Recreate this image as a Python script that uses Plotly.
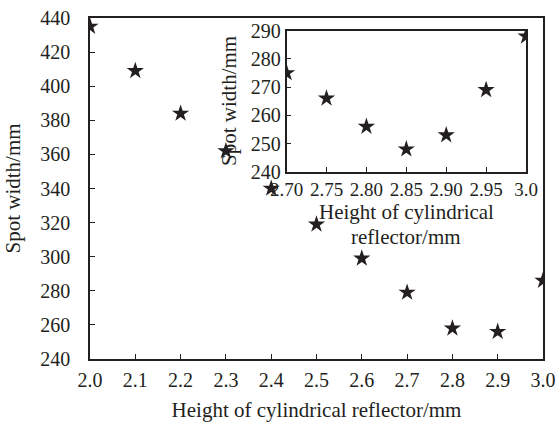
import plotly.graph_objects as go

# Main data
main_x = [2.0, 2.1, 2.2, 2.3, 2.4, 2.5, 2.6, 2.7, 2.8, 2.9, 3.0]
main_y = [435, 409, 384, 362, 340, 319, 299, 279, 258, 256, 286]
main_xticks = [2.0, 2.1, 2.2, 2.3, 2.4, 2.5, 2.6, 2.7, 2.8, 2.9, 3.0]
main_xlabels = ["2.0", "2.1", "2.2", "2.3", "2.4", "2.5", "2.6", "2.7", "2.8", "2.9", "3.0"]
main_yticks = [240, 260, 280, 300, 320, 340, 360, 380, 400, 420, 440]

# Inset data
inset_x = [2.70, 2.75, 2.80, 2.85, 2.90, 2.95, 3.0]
inset_y = [275, 266, 256, 248, 253, 269, 288]
inset_xticks = [2.70, 2.75, 2.80, 2.85, 2.90, 2.95, 3.0]
inset_xlabels = ["2.70", "2.75", "2.80", "2.85", "2.90", "2.95", "3.0"]
inset_yticks = [240, 250, 260, 270, 280, 290]

FONT = "Liberation Serif"
INK = "#231f20"

fig = go.Figure()
fig.add_trace(go.Scatter(x=main_x, y=main_y, mode="markers",
                         marker=dict(symbol="star", size=13, color=INK),
                         xaxis="x", yaxis="y", showlegend=False))
fig.add_trace(go.Scatter(x=inset_x, y=inset_y, mode="markers",
                         marker=dict(symbol="star", size=13, color=INK),
                         xaxis="x2", yaxis="y2", showlegend=False))

axcommon = dict(showline=True, linecolor=INK, linewidth=1.5, mirror=True,
                ticks="inside", ticklen=5, tickcolor=INK, tickwidth=1,
                showgrid=False, zeroline=False, automargin=False,
                tickfont=dict(family=FONT, size=20, color=INK))

title_font = dict(family=FONT, size=21, color=INK)

fig.update_layout(
    width=557, height=423,
    margin=dict(l=90, r=14, t=18, b=64),
    paper_bgcolor="white", plot_bgcolor="rgba(0,0,0,0)",
    font=dict(family=FONT, size=20, color=INK),
    xaxis=dict(axcommon, domain=[0, 1], range=[2.0, 3.0],
               tickvals=main_xticks, ticktext=main_xlabels, ticklabelstandoff=2,
               title=dict(text="Height of cylindrical reflector/mm",
                          font=title_font, standoff=13)),
    yaxis=dict(axcommon, domain=[0, 1], range=[240, 440],
               tickvals=main_yticks, ticklabelstandoff=14,
               title=dict(text="Spot width/mm", font=title_font, standoff=14)),
    xaxis2=dict(axcommon, domain=[0.434, 0.9625], range=[2.70, 3.0],
                anchor="y2", tickvals=inset_xticks, ticktext=inset_xlabels,
                tickfont=dict(family=FONT, size=19, color=INK)),
    yaxis2=dict(axcommon, domain=[0.549, 0.963], range=[240, 290],
                anchor="x2", tickvals=inset_yticks),
    annotations=[
        dict(text="Height of cylindrical", xref="paper", yref="paper",
             x=0.698, y=0.432, xanchor="center", yanchor="middle",
             showarrow=False, font=title_font),
        dict(text="reflector/mm", xref="paper", yref="paper",
             x=0.698, y=0.357, xanchor="center", yanchor="middle",
             showarrow=False, font=title_font),
        dict(text="Spot width/mm", xref="paper", yref="paper",
             x=0.307, y=0.757, xanchor="center", yanchor="middle",
             textangle=-90, showarrow=False, font=title_font),
    ],
)

fig.write_html(
    "out.html",
    config={"displayModeBar": False},
    post_script="document.body.style.margin='0';document.body.style.overflow='hidden';",
)
